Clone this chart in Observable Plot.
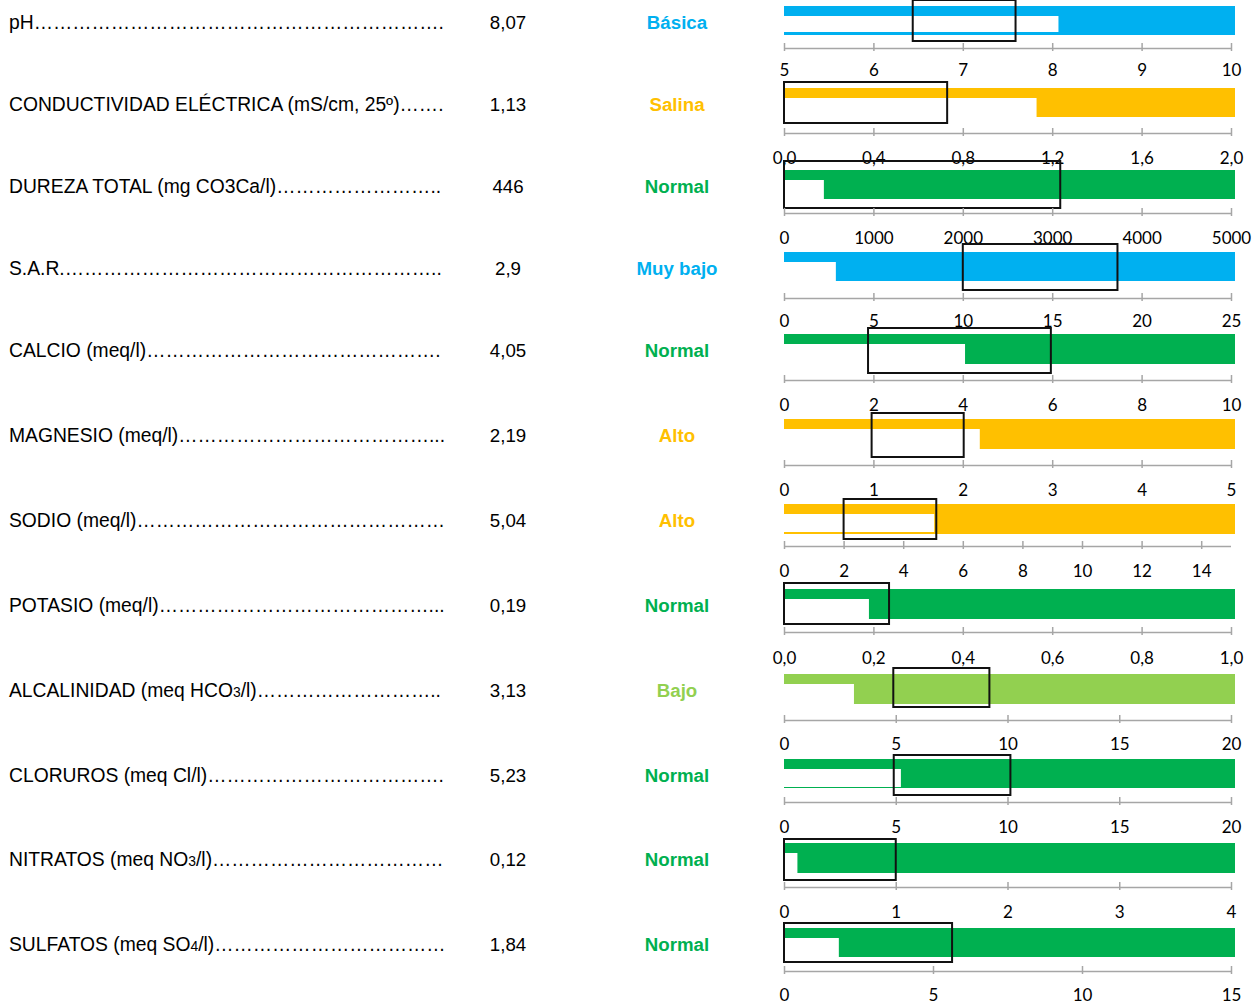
<!DOCTYPE html>
<html>
<head>
<meta charset="utf-8">
<script src="https://cdn.jsdelivr.net/npm/d3@7"></script>
<script src="https://cdn.jsdelivr.net/npm/@observablehq/plot@0.6"></script>
<style>
  body { margin: 0; background: #fff; }
  #chart { position: relative; width: 1258px; height: 1006px; overflow: hidden; background: #fff; }
  .row { position: absolute; left: 0; width: 1258px; }
  .txt { position: absolute; line-height: 24px; white-space: nowrap; font-family: "Liberation Sans", Arial, sans-serif; font-size: 18.7px; color: #000; }
  .lab { left: 9px; font-size: 19.3px; }
  .val { left: 478px; width: 60px; text-align: center; }
  .cat { left: 617px; width: 120px; text-align: center; font-weight: bold; }
  .sub { font-size: 0.72em; }
  .plotbox { position: absolute; left: 770px; top: 0; }
</style>
</head>
<body>
<div id="chart"></div>
<script>
// ---- data ----
const names = [
  "pH",
  "CONDUCTIVIDAD ELÉCTRICA (mS/cm, 25º)",
  "DUREZA TOTAL (mg CO3Ca/l)",
  "S.A.R.",
  "CALCIO (meq/l)",
  "MAGNESIO (meq/l)",
  "SODIO (meq/l)",
  "POTASIO (meq/l)",
  "ALCALINIDAD (meq HCO3/l)",
  "CLORUROS (meq Cl/l)",
  "NITRATOS (meq NO3/l)",
  "SULFATOS (meq SO4/l)"
];
const values = [8.07, 1.13, 446, 2.9, 4.05, 2.19, 5.04, 0.19, 3.13, 5.23, 0.12, 1.84];
const categories = ["Básica", "Salina", "Normal", "Muy bajo", "Normal", "Alto", "Alto", "Normal", "Bajo", "Normal", "Normal", "Normal"];
const axisMin = [5, 0, 0, 0, 0, 0, 0, 0, 0, 0, 0, 0];
const axisMax = [10, 2, 5000, 25, 10, 5, 15, 1, 20, 20, 4, 15];
const axisTicks = [
  [5, 6, 7, 8, 9, 10],
  [0, 0.4, 0.8, 1.2, 1.6, 2],
  [0, 1000, 2000, 3000, 4000, 5000],
  [0, 5, 10, 15, 20, 25],
  [0, 2, 4, 6, 8, 10],
  [0, 1, 2, 3, 4, 5],
  [0, 2, 4, 6, 8, 10, 12, 14],
  [0, 0.2, 0.4, 0.6, 0.8, 1],
  [0, 5, 10, 15, 20],
  [0, 5, 10, 15, 20],
  [0, 1, 2, 3, 4],
  [0, 5, 10, 15]
];
const tickDecimals = [0, 1, 0, 0, 0, 0, 0, 1, 0, 0, 0, 0];
const rangeLow  = [6.44, 0, 0, 10, 1.88, 0.98, 2.0, 0, 4.89, 4.91, 0, 0];
const rangeHigh = [7.59, 0.73, 3090, 18.65, 5.97, 2.01, 5.11, 0.235, 9.19, 10.13, 1.0, 5.64];
const categoryColors = {
  "Básica": "#00B0F0",
  "Muy bajo": "#00B0F0",
  "Salina": "#FFC000",
  "Alto": "#FFC000",
  "Normal": "#00B050",
  "Bajo": "#92D050"
};

// ---- layout ----
const rowHeights = [82, 82, 82, 82, 85, 85, 85, 85, 85, 84, 85, 84];
const whiteGapBottom = [3, 0, 0, 0, 0, 0, 2, 0, 0, 1, 0, 0];
const rectPadTop = [6, 6, 9, 8, 6, 6, 5, 6, 6, 4, 4, 5];
const rectPadBottom = [6, 6, 9, 9, 9, 8, 5, 5, 3, 7, 7, 5];
const axisGap = [13, 16, 14, 17, 16, 16, 12, 13, 16, 14, 14, 14];
const labelGap = [22, 25, 25, 23, 25, 25, 25, 26, 24, 25, 25, 24];
const labelWidth = 437;

const chart = document.getElementById("chart");
const fmtComma = (v, dec) => d3.format(`.${dec}f`)(v).replace(".", ",");
const withSub = s => s.replace(/(HCO|NO|SO)(\d)/g, '$1<span class="sub">$2</span>');

function fillLeader(lab, dots) {
  let s = "";
  for (let k = 0; k < 200; k++) {
    dots.textContent = s + "…";
    if (lab.getBoundingClientRect().width > labelWidth) break;
    s += "…";
  }
  for (let k = 0; k < 10; k++) {
    dots.textContent = s + ".";
    if (lab.getBoundingClientRect().width > labelWidth) break;
    s += ".";
  }
  dots.textContent = s;
}

let rowTop = 0;
names.forEach((name, i) => {
  const H = rowHeights[i];
  const bandH = Math.round(H * 0.35);
  const color = categoryColors[categories[i]];
  const row = {name, value: values[i], min: axisMin[i], max: axisMax[i], lo: rangeLow[i], hi: rangeHigh[i]};

  const div = document.createElement("div");
  div.className = "row";
  div.style.top = rowTop + "px";
  div.style.height = H + "px";
  chart.appendChild(div);

  const lab = document.createElement("div");
  lab.className = "txt lab";
  lab.style.top = "10.5px";
  lab.innerHTML = withSub(name) + '<span class="dots"></span>';
  div.appendChild(lab);
  fillLeader(lab, lab.querySelector(".dots"));

  const val = document.createElement("div");
  val.className = "txt val";
  val.style.top = "10.5px";
  val.textContent = String(values[i]).replace(".", ",");
  div.appendChild(val);

  const cat = document.createElement("div");
  cat.className = "txt cat";
  cat.style.top = "10.5px";
  cat.style.color = color;
  cat.textContent = categories[i];
  div.appendChild(cat);

  const axisOffset = bandH / 2 + axisGap[i];
  const plot = Plot.plot({
    width: 488,
    height: H,
    marginLeft: 14,
    marginRight: 27,
    marginTop: 6,
    marginBottom: H - 6 - bandH,
    x: {domain: [row.min, row.max], axis: null},
    y: {domain: [name], padding: 0, axis: null},
    style: "background: transparent; overflow: visible;",
    marks: [
      Plot.barX([row], {x1: "min", x2: "max", y: "name", fill: color, insetRight: -4}),
      Plot.barX([row], {x1: "min", x2: "value", y: "name", fill: "white",
        insetTop: Math.round(bandH * 0.33), insetBottom: whiteGapBottom[i]}),
      Plot.barX([row], {x1: "lo", x2: "hi", y: "name", fill: "none", stroke: "#111", strokeWidth: 2,
        insetTop: -rectPadTop[i], insetBottom: -rectPadBottom[i]}),
      Plot.ruleY([row], {y: "name", x1: "min", x2: "max", dy: axisOffset, stroke: "#a6a6a6", strokeWidth: 1.5}),
      Plot.tickX(axisTicks[i], {x: d => d, y: () => name, stroke: "#a6a6a6", strokeWidth: 1.5,
        insetTop: bandH + axisGap[i] - 5, insetBottom: -(axisGap[i] + 3)}),
      Plot.text(axisTicks[i], {x: d => d, y: () => name, dy: axisOffset + labelGap[i],
        text: d => fmtComma(d, tickDecimals[i]), fill: "#000", fontSize: 17, fontFamily: "Lato"})
    ]
  });
  const box = document.createElement("div");
  box.className = "plotbox";
  box.appendChild(plot);
  div.appendChild(box);

  rowTop += H;
});
</script>
</body>
</html>
